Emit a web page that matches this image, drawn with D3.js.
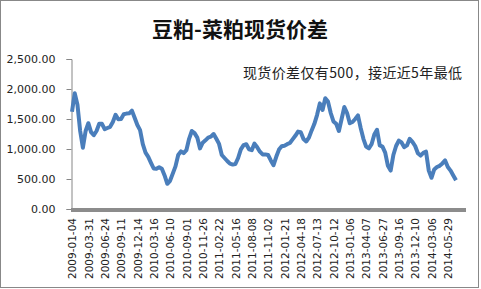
<!DOCTYPE html>
<html>
<head>
<meta charset="utf-8">
<script src="https://cdn.jsdelivr.net/npm/d3@7"></script>
<style>
  body { margin: 0; background: #fff; }
</style>
</head>
<body>
<script>
// category labels shown on the axis, one every 6 points
var tickLabels = ["2009-01-04", "2009-03-31", "2009-06-24", "2009-09-11", "2009-12-14",
    "2010-03-16", "2010-06-10", "2010-09-01", "2010-11-26", "2011-02-22", "2011-05-16",
    "2011-08-08", "2011-11-02", "2012-01-21", "2012-04-18", "2012-07-13", "2012-10-12",
    "2013-01-06", "2013-04-07", "2013-06-27", "2013-09-16", "2013-12-10", "2014-03-06",
    "2014-05-29"];
var step = 6;

// spread values
var spread = [
    1620, 1930, 1740, 1300, 1020, 1300, 1430, 1280, 1230, 1300,
    1420, 1420, 1330, 1350, 1370, 1450, 1570, 1495, 1500, 1580,
    1590, 1595, 1640, 1520, 1400, 1315, 1080, 940, 870, 770,
    675, 670, 695, 670, 560, 420, 470, 590, 710, 900,
    960, 930, 980, 1170, 1300, 1265, 1190, 1010, 1105, 1145,
    1190, 1205, 1250, 1170, 1085, 900, 850, 800, 755, 740,
    750, 850, 995, 1065, 1080, 995, 980, 1090, 1030, 955,
    910, 910, 900, 810, 730, 870, 990, 1045, 1055, 1080,
    1100, 1160, 1220, 1290, 1280, 1165, 1125, 1190, 1310, 1420,
    1570, 1760, 1650, 1845, 1790, 1600, 1460, 1420, 1300, 1500,
    1700, 1600, 1430, 1450, 1500, 1560, 1350, 1170, 1040, 1010,
    1080, 1240, 1320, 1060, 1040, 940, 720, 640, 900, 1050,
    1140, 1110, 1030, 1060, 1170, 1120, 1050, 930, 890, 935,
    955, 640, 520, 660, 700, 720, 760, 810, 700, 640,
    560, 480
];
var yTicks = [0, 500, 1000, 1500, 2000, 2500];

var title = "豆粕-菜粕现货价差";
var note = "现货价差仅有500，接近近5年最低";

var width = 481, height = 289;

var svg = d3.select("body").append("svg")
    .attr("width", width)
    .attr("height", height);

svg.append("rect")
    .attr("x", 0.5).attr("y", 0.5)
    .attr("width", 478).attr("height", 287)
    .attr("fill", "#fff")
    .attr("stroke", "#888");

var x = d3.scaleLinear()
    .domain([0, spread.length - 1])
    .range([72, 456]);

var y = d3.scaleLinear()
    .domain([0, 2500])
    .range([209, 59]);

// y axis
var yAxis = d3.axisLeft(y)
    .tickValues(yTicks)
    .tickSize(5)
    .tickFormat(d3.format(",.2f"));

var gy = svg.append("g")
    .attr("transform", "translate(71.5,0)")
    .call(yAxis);
gy.select(".domain").attr("stroke", "#868686");
gy.selectAll(".tick line").attr("stroke", "#868686");
gy.selectAll(".tick text")
    .attr("x", -16)
    .attr("fill", "#222")
    .style("font-family", "DejaVu Sans")
    .style("font-size", "11px");

// x axis, thick grey baseline
var xAxis = d3.axisBottom(x)
    .tickValues(d3.range(tickLabels.length).map(function (i) { return i * step; }))
    .tickSize(0)
    .tickFormat(function (d) { return tickLabels[d / step]; });

var gx = svg.append("g")
    .attr("transform", "translate(0," + y(0) + ")")
    .call(xAxis);
gx.select(".domain").remove();
gx.insert("line", ":first-child")
    .attr("x1", 71).attr("x2", 466)
    .attr("y1", 1).attr("y2", 1)
    .attr("stroke", "#8c8c8c")
    .attr("stroke-width", 4);
gx.selectAll(".tick text")
    .attr("transform", "rotate(-90)")
    .attr("x", -9)
    .attr("y", 0)
    .attr("dy", "0.35em")
    .style("text-anchor", "end")
    .attr("fill", "#222")
    .style("font-family", "DejaVu Sans")
    .style("font-size", "10.5px");

// line
var line = d3.line()
    .x(function (d, i) { return x(i); })
    .y(function (d) { return y(d); });

svg.append("path")
    .datum(spread)
    .attr("fill", "none")
    .attr("stroke", "#4a7ebb")
    .attr("stroke-width", 4)
    .attr("stroke-linejoin", "round")
    .attr("d", line);

svg.append("text")
    .attr("x", 240)
    .attr("y", 37)
    .attr("text-anchor", "middle")
    .style("font-family", "Noto Sans CJK SC")
    .style("font-size", "21px")
    .style("font-weight", "bold")
    .attr("fill", "#111")
    .text(title);

svg.append("text")
    .attr("x", 243)
    .attr("y", 78)
    .attr("textLength", 219)
    .style("font-family", "Noto Sans CJK SC")
    .style("font-size", "14px")
    .attr("fill", "#222")
    .text(note);
</script>
</body>
</html>
